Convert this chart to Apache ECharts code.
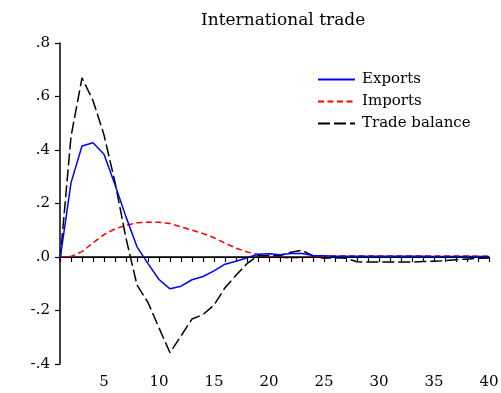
<!DOCTYPE html>
<html>
<head>
<meta charset="utf-8">
<script src="https://cdn.jsdelivr.net/npm/echarts@6/dist/echarts.min.js"></script>
<style>html,body{margin:0;padding:0;background:#fff}#c{width:501px;height:393px}</style>
</head>
<body>
<div id="c"></div>
<script>
const titleText = 'International trade';
const periods = [1,2,3,4,5,6,7,8,9,10,11,12,13,14,15,16,17,18,19,20,21,22,23,24,25,26,27,28,29,30,31,32,33,34,35,36,37,38,39,40];
const exportsVals = [-0.01,0.277,0.415,0.427,0.384,0.27,0.15,0.038,-0.025,-0.084,-0.119,-0.109,-0.085,-0.073,-0.052,-0.027,-0.016,-0.003,0.01,0.012,0.008,0.013,0.013,0.006,0.005,0.003,0.003,0.003,0.003,0.003,0.003,0.003,0.003,0.003,0.002,0.002,0.002,0.002,0.002,0.002];
const importsVals = [0,0.002,0.02,0.053,0.084,0.105,0.119,0.128,0.13,0.13,0.125,0.113,0.1,0.088,0.072,0.052,0.033,0.019,0.009,0.003,-0.002,-0.003,-0.002,0,0.002,0.004,0.004,0.004,0.004,0.004,0.004,0.004,0.004,0.004,0.004,0.004,0.004,0.004,0.003,0.003];
const balanceVals = [-0.015,0.45,0.67,0.585,0.456,0.28,0.07,-0.105,-0.17,-0.265,-0.358,-0.295,-0.232,-0.215,-0.18,-0.115,-0.068,-0.025,0.005,0.005,0.005,0.018,0.025,0.004,-0.005,-0.003,-0.005,-0.018,-0.019,-0.019,-0.019,-0.019,-0.019,-0.017,-0.016,-0.014,-0.01,-0.008,-0.005,-0.004];
const seriesNames = ['Exports','Imports','Trade balance'];
const xLabelValues = [5,10,15,20,25,30,35,40];

const font = 'DejaVu Serif';
const pair = arr => periods.map((t,i) => [t, arr[i]]);
const chart = echarts.init(document.getElementById('c'), null, {renderer:'canvas'});
chart.setOption({
  animation: false,
  backgroundColor: '#fff',
  title: {text: titleText, left: 201, top: 12, padding: 0,
    textStyle: {fontFamily: font, fontSize: 17, fontWeight: 'normal', color: '#000'}},
  legend: {orient: 'vertical', left: 317, top: 72, padding: 0, itemWidth: 37, itemHeight: 14, itemGap: 7,
    data: seriesNames,
    itemStyle: {opacity: 0},
    textStyle: {fontFamily: font, fontSize: 15, lineHeight: 14, color: '#000', padding: [0,0,0,2]}},
  grid: {left: 60, right: 12, top: 43, bottom: 29, outerBoundsMode: 'none'},
  xAxis: {type: 'value', min: 1, max: 40, interval: 1,
    axisLine: {lineStyle: {color: '#000', width: 1.5}},
    axisTick: {length: 5, lineStyle: {color: '#000', width: 1.2}},
    splitLine: {show: false},
    axisLabel: {margin: 11, fontFamily: font, fontSize: 15, color: '#000',
      formatter: v => xLabelValues.indexOf(v) >= 0 ? String(v) : ''}},
  yAxis: {type: 'value', min: -0.4, max: 0.8, interval: 0.2,
    axisLine: {show: true, lineStyle: {color: '#000', width: 1.5}},
    axisTick: {show: true, length: 5, lineStyle: {color: '#000', width: 1.2}},
    splitLine: {show: false},
    axisLabel: {margin: 10, fontFamily: font, fontSize: 15, color: '#000',
      formatter: v => v.toFixed(1).replace('0.', '.')}},
  series: [
    {name: seriesNames[0], type: 'line', data: pair(exportsVals), symbol: 'none', z: 4,
      lineStyle: {color: '#0000ff', width: 1.5, type: 'solid'}, itemStyle: {color: '#0000ff'},
      markLine: {silent: true, symbol: 'none', label: {show: false},
        lineStyle: {color: '#000', width: 1, type: 'solid'}, data: [{yAxis: 0}]}},
    {name: seriesNames[1], type: 'line', data: pair(importsVals), symbol: 'none', z: 3,
      lineStyle: {color: '#ff0000', width: 1.5, type: [6,3.5]}, itemStyle: {color: '#ff0000'}},
    {name: seriesNames[2], type: 'line', data: pair(balanceVals), symbol: 'none', z: 3,
      lineStyle: {color: '#000000', width: 1.5, type: [12,4]}, itemStyle: {color: '#000000'}}
  ]
});
</script>
</body>
</html>
